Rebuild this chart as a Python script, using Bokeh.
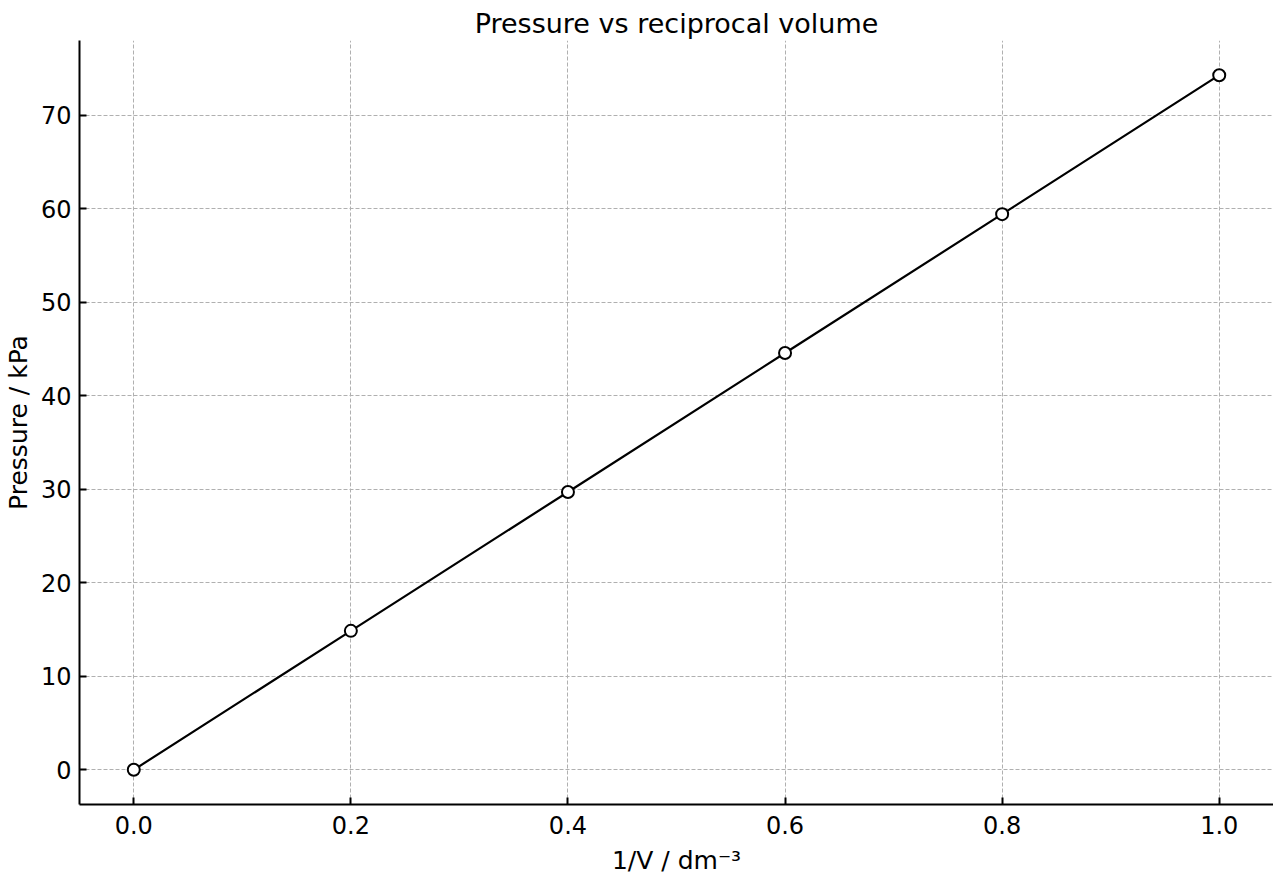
from bokeh.plotting import figure
from bokeh.models import FixedTicker, Range1d
from bokeh.embed import file_html
from bokeh.resources import INLINE

# reciprocal volume (dm^-3) and pressure (kPa)
inv_volume = [0.0, 0.2, 0.4, 0.6, 0.8, 1.0]
pressure = [0.0, 14.86, 29.71, 44.57, 59.42, 74.28]

x_ticks = [0.0, 0.2, 0.4, 0.6, 0.8, 1.0]
y_ticks = [0, 10, 20, 30, 40, 50, 60, 70]

FONT = "DejaVu Sans"

p = figure(width=1273, height=878, output_backend="svg", toolbar_location=None,
           title="Pressure vs reciprocal volume",
           x_range=Range1d(-0.05, 1.05), y_range=Range1d(-3.71, 77.99),
           min_border_left=79, min_border_right=0, min_border_top=40, min_border_bottom=74)

p.title.align = "center"
p.title.text_font = FONT
p.title.text_font_size = "27px"
p.title.text_font_style = "normal"
p.title.text_color = "black"
p.title.text_line_height = 1.0
p.title.standoff = 4

p.outline_line_color = None

for ax in (p.xaxis, p.yaxis):
    ax.axis_line_width = 2
    ax.major_tick_line_width = 2
    ax.major_tick_in = 7
    ax.major_tick_out = 0
    ax.minor_tick_line_color = None
    ax.major_label_text_font = FONT
    ax.major_label_text_font_size = "24px"
    ax.major_label_text_color = "black"
    ax.axis_label_text_font = FONT
    ax.axis_label_text_font_size = "25px"
    ax.axis_label_text_font_style = "normal"
    ax.axis_label_text_color = "black"
    ax.axis_line_color = "black"
    ax.major_tick_line_color = "black"

p.xaxis.ticker = FixedTicker(ticks=x_ticks)
p.xaxis.major_label_overrides = {t: f"{t:.1f}" for t in x_ticks}
p.yaxis.ticker = FixedTicker(ticks=y_ticks)
p.xaxis.axis_label = "1/V / dm\u207b\u00b3"
p.yaxis.axis_label = "Pressure / kPa"
p.xaxis.major_label_standoff = 11
p.yaxis.major_label_standoff = 8
p.xaxis.axis_label_standoff = 9
p.yaxis.axis_label_standoff = 5

p.grid.grid_line_color = "#b0b0b0"
p.grid.grid_line_dash = "4 2"
p.grid.grid_line_width = 1

p.line(inv_volume, pressure, line_color="black", line_width=2.2)
p.scatter(inv_volume, pressure, size=12, fill_color="white", line_color="black", line_width=2)

open("out.html", "w").write(file_html(p, INLINE))
